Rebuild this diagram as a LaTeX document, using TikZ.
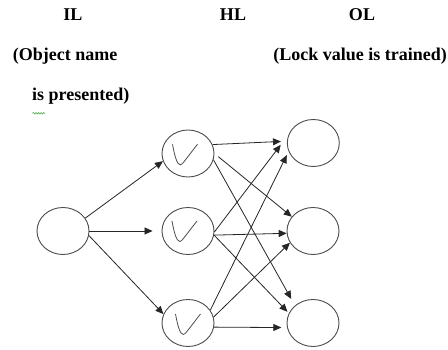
\documentclass[tikz,border=0pt]{standalone}
\usepackage{fontspec}
\setmainfont{Liberation Serif}
\usetikzlibrary{arrows.meta,decorations.pathmorphing,shapes.geometric}
\tikzset{
  unit/.style={draw=black!70,line width=0.9pt,ellipse,minimum width=52pt,minimum height=47pt,inner sep=0pt},
  link/.style={draw=black!85,line width=0.8pt,-{Triangle[length=8pt,width=7pt]}},
  lbl/.style={font=\fontsize{18}{21}\selectfont\bfseries,inner sep=0pt},
  vline/.style={draw=black!70,line width=0.8pt},
  vee/.pic={\draw[vline] (-16,-10) .. controls (-14,1) and (-11.5,10.5) .. (-8.2,10.5)
            .. controls (-6.2,10.5) and (-4,6.5) .. (9,-10);}
}
\begin{document}
\begin{tikzpicture}[x=1pt,y=-1pt]
\useasboundingbox (0,0) rectangle (448,350);
\fill[white] (0,0) rectangle (448,350);

% layer headings
\node[lbl,anchor=base] (tIL) at (73,20.7) {IL};
\node[lbl,anchor=base] (tHL) at (233,20.7) {HL};
\node[lbl,anchor=base] (tOL) at (362,20.7) {OL};
\node[lbl,anchor=base west] (tin1) at (12.7,60.5) {(Object name};
\node[lbl,anchor=base west] (tin2) at (32,101) {is presented)};
\node[lbl,anchor=base east] (tout) at (447,60.5) {(Lock value is trained)};
% spell-check squiggle under "is"
\draw[green!55!black!80,line width=0.5pt,decorate,decoration={snake,amplitude=0.8pt,segment length=2.6pt}]
  (32.5,113.3) -- (45,113.3);

% input layer
\node[unit] (i) at (63,231) {};
% hidden layer
\node[unit] (h1) at (188,153.5) {};
\node[unit] (h2) at (188,231) {};
\node[unit] (h3) at (188,323) {};
\pic at ([shift={(0.5,0.8)}]h1.center) {vee};
\pic at (h2.center) {vee};
\pic at ([shift={(3.5,1)}]h3.center) {vee};
% output layer
\node[unit] (o1) at (313.3,143) {};
\node[unit] (o2) at (313,231) {};
\node[unit] (o3) at (313,323) {};

% input -> hidden
\draw[link] (i.30) -- (h1.197);
\draw[link,shorten >=9pt] (i.east) -- (h2.west);
\draw[link] (i.-10) -- (h3.160);

% hidden -> output
\draw[link,shorten >=6pt] (h1.20) -- (o1.176);
\draw[link,shorten <=5pt] (h1.east) -- (o2.146);
\draw[link,shorten >=7.5pt] (h1.-14) -- (o3.136);
\draw[link,shorten >=13pt] (h2.-2) -- (o1.161);
\draw[link] (h2.-9) -- (o2.185);
\draw[link,shorten >=2pt] (h2.-9) -- (o3.158);
\draw[link,shorten >=4pt] (h3.30) -- (o1.199);
\draw[link] (h3.13) -- (o2.207);
\draw[link,shorten >=5.7pt] (h3.-9) -- (o3.190);
\end{tikzpicture}
\end{document}
